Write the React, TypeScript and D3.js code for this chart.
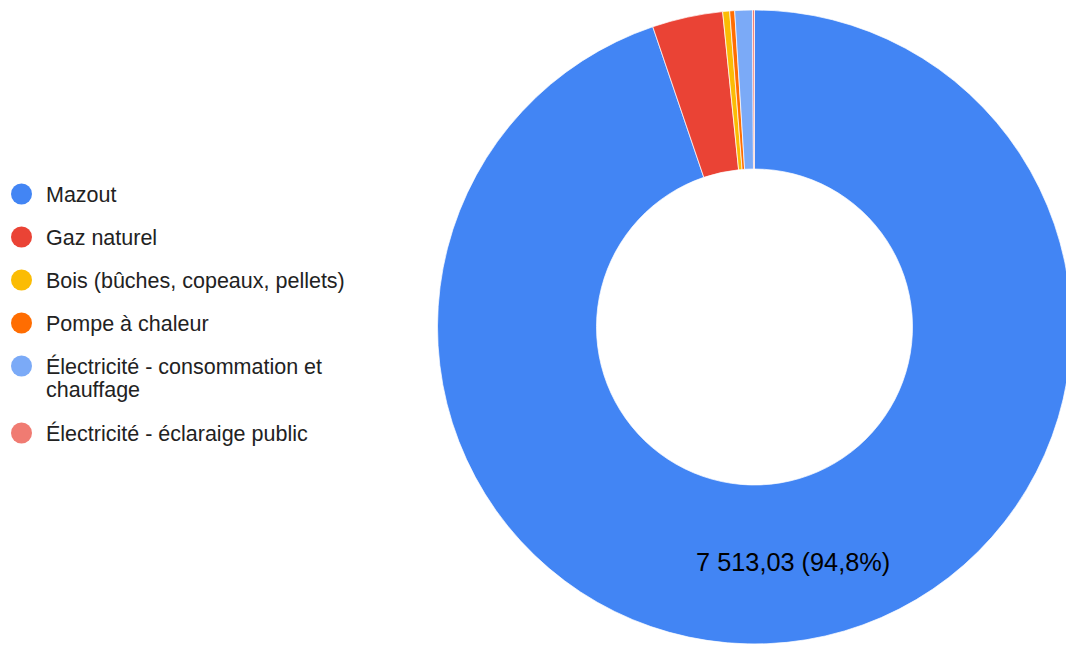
import { useEffect, useRef } from "react";
import * as d3 from "d3";

// energy sources and their values
const categories = [
    "Mazout",
    "Gaz naturel",
    "Bois (bûches, copeaux, pellets)",
    "Pompe à chaleur",
    "Électricité - consommation et chauffage",
    "Électricité - éclaraige public",
];
const values = [7513.03, 285, 28, 20, 71, 8];
const colors = ["#4285f4", "#ea4335", "#fbbc04", "#ff6d01", "#7baaf7", "#f07b72"];

export default function App() {
    const svgRef = useRef(null);

    useEffect(() => {
        const width = 1066, height = 645;
        const cx = 754.5, cy = 327;
        const outer = 317, inner = 158;
        const font = "'Liberation Sans', Arial, sans-serif";

        const svg = d3.select(svgRef.current)
            .attr("width", width)
            .attr("height", height);
        svg.selectAll("*").remove();

        const locale = d3.formatLocale({ decimal: ",", thousands: " ", grouping: [3], currency: ["", ""] });
        const fmtVal = locale.format(",.2f");
        const fmtPct = locale.format(".1%");

        const total = d3.sum(values);
        const pie = d3.pie<number>().sort(null).value((d) => d);
        const arcs = pie(values);
        const arc = d3.arc<d3.PieArcDatum<number>>().innerRadius(inner).outerRadius(outer);

        const g = svg.append("g").attr("transform", `translate(${cx}, ${cy})`);

        g.selectAll("path")
            .data(arcs)
            .enter()
            .append("path")
            .attr("d", arc)
            .attr("fill", (d, i) => colors[i])
            .attr("stroke", "#fff")
            .attr("stroke-width", 0.7);

        // only big slices get a label
        g.selectAll("text.lbl")
            .data(arcs.filter((d) => d.value / total > 0.05))
            .enter()
            .append("text")
            .attr("class", "lbl")
            .attr("transform", (d) => `translate(${arc.centroid(d)})`)
            .attr("text-anchor", "middle")
            .attr("dy", "0.38em")
            .style("font-family", font)
            .style("font-size", "25.3px")
            .attr("fill", "#000")
            .text((d) => `${fmtVal(d.value)} (${fmtPct(d.value / total)})`);

        // legend
        const legend = svg.append("g");
        let y = 194;
        categories.forEach((name, i) => {
            legend.append("circle")
                .attr("cx", 21.5)
                .attr("cy", y)
                .attr("r", 10.5)
                .attr("fill", colors[i]);

            const t = legend.append("text")
                .attr("x", 46)
                .attr("y", y)
                .attr("dy", "0.36em")
                .style("font-family", font)
                .style("font-size", "21.5px")
                .attr("fill", "#222");

            // wrap long names
            const words = name.split(" ");
            let line: string[] = [];
            let tspan = t.append("tspan").attr("x", 46);
            let lines = 1;
            words.forEach((w) => {
                line.push(w);
                tspan.text(line.join(" "));
                if ((tspan.node() as SVGTSpanElement).getComputedTextLength() > 330 && line.length > 1) {
                    line.pop();
                    tspan.text(line.join(" "));
                    line = [w];
                    tspan = t.append("tspan").attr("x", 46).attr("dy", 23.5).text(w);
                    lines++;
                }
            });
            y += 43 + (lines - 1) * 24;
        });
    }, []);

    return (
        <div style={{ position: "absolute", left: 0, top: 0 }}>
            <svg ref={svgRef} style={{ display: "block" }}></svg>
        </div>
    );
}
